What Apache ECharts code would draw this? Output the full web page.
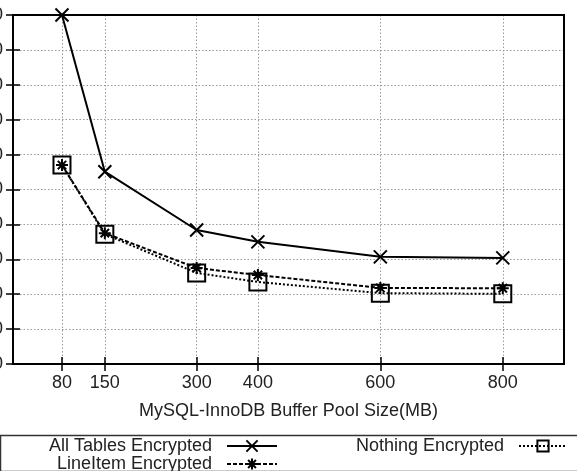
<!DOCTYPE html>
<html>
<head>
<meta charset="utf-8">
<script src="https://cdn.jsdelivr.net/npm/echarts@6/dist/echarts.min.js"></script>
<style>
  html, body { margin: 0; padding: 0; background: #fff; }
  #chart { width: 577px; height: 471px; }
</style>
</head>
<body>
<div id="chart"></div>
<script>
// buffer pool sizes (MB)
const poolSizes = [80, 150, 300, 400, 600, 800]
const seriesNames = ['All Tables Encrypted', 'LineItem Encrypted', 'Nothing Encrypted']
const allTables = [1000, 551, 384, 350, 307, 304]
const lineItem = [570, 375, 275, 255, 218, 217]
const nothing = [570, 372, 261, 235, 203, 201]

const font = 'Liberation Sans, Arial, sans-serif'
const textColor = '#222'

function pairs(values) {
  return poolSizes.map((x, i) => [x, values[i]])
}

const crossPath = 'path://M0,0 L10,10 M10,0 L0,10'
const starPath = 'path://M5,0 L5,10 M0,5 L10,5 M1.5,1.5 L8.5,8.5 M8.5,1.5 L1.5,8.5'
const squarePath = 'path://M0,0 L10,0 L10,10 L0,10 Z'

const chart = echarts.init(document.getElementById('chart'), null, { renderer: 'canvas' })

const tickCommon = { show: true, inside: true, length: 7, lineStyle: { color: '#000', width: 1.5 } }
const dotted = { show: true, lineStyle: { color: '#999', type: [1.5, 2], width: 1 } }
const legendText = { fontSize: 18, lineHeight: 17, color: textColor, fontFamily: font }

const option = {
  backgroundColor: '#fff',
  animation: false,
  textStyle: { fontFamily: font },
  grid: {
    left: 13, right: 13, top: 15, bottom: 107,
    outerBoundsMode: 'none', containLabel: false,
    show: true, borderColor: '#000', borderWidth: 2, z: 3
  },
  xAxis: [
    {
      type: 'value', min: 0, max: 900, position: 'bottom',
      axisLine: { show: false },
      axisTick: Object.assign({ customValues: poolSizes }, tickCommon),
      axisLabel: { customValues: poolSizes, fontSize: 18, color: textColor, margin: 10, fontFamily: font },
      splitLine: dotted,
      name: 'MySQL-InnoDB Buffer Pool Size(MB)',
      nameLocation: 'middle', nameGap: 38,
      nameTextStyle: { fontSize: 18, color: textColor, fontFamily: font }
    },
    {
      type: 'value', min: 0, max: 900, position: 'top',
      axisLine: { show: false },
      axisTick: Object.assign({ customValues: poolSizes }, tickCommon),
      axisLabel: { show: false },
      splitLine: { show: false }
    }
  ],
  yAxis: [
    {
      type: 'value', min: 0, max: 1000, interval: 100, position: 'left',
      axisLine: { show: false },
      axisTick: tickCommon,
      axisLabel: { fontSize: 18, color: textColor, margin: 10, fontFamily: font, formatter: '{value}' },
      splitLine: dotted
    },
    {
      type: 'value', min: 0, max: 1000, interval: 100, position: 'right',
      axisLine: { show: false },
      axisTick: tickCommon,
      axisLabel: { show: false },
      splitLine: { show: false }
    }
  ],
  legend: [
    {
      data: [seriesNames[0], seriesNames[1]],
      orient: 'vertical', align: 'right',
      right: 299, top: 437, height: 80, padding: 0,
      itemWidth: 50, itemHeight: 14, itemGap: 0,
      formatter: '{name}  ',
      textStyle: legendText
    },
    {
      data: [seriesNames[2]],
      orient: 'vertical', align: 'right',
      right: 9, top: 437, height: 80, padding: 0,
      itemWidth: 48, itemHeight: 14, itemGap: 0,
      formatter: '{name}  ',
      textStyle: legendText
    }
  ],
  graphic: [
    {
      type: 'rect', left: -2, top: 433, silent: true,
      shape: { width: 581, height: 36 },
      style: { fill: 'none', stroke: '#333', lineWidth: 1.5 }
    }
  ],
  series: [
    {
      name: seriesNames[0], type: 'line', data: pairs(allTables),
      symbol: crossPath, symbolSize: 13,
      lineStyle: { color: '#000', width: 2, type: 'solid' },
      itemStyle: { color: 'none', borderColor: '#000', borderWidth: 2 },
      z: 5
    },
    {
      name: seriesNames[1], type: 'line', data: pairs(lineItem),
      symbol: starPath, symbolSize: 12,
      lineStyle: { color: '#000', width: 2, type: [4, 2] },
      itemStyle: { color: 'none', borderColor: '#000', borderWidth: 2 },
      z: 5
    },
    {
      name: seriesNames[2], type: 'line', data: pairs(nothing),
      symbol: squarePath, symbolSize: 17,
      lineStyle: { color: '#000', width: 2, type: [2, 2] },
      itemStyle: { color: 'none', borderColor: '#000', borderWidth: 2 },
      z: 5
    }
  ]
}

chart.setOption(option)
</script>
</body>
</html>
